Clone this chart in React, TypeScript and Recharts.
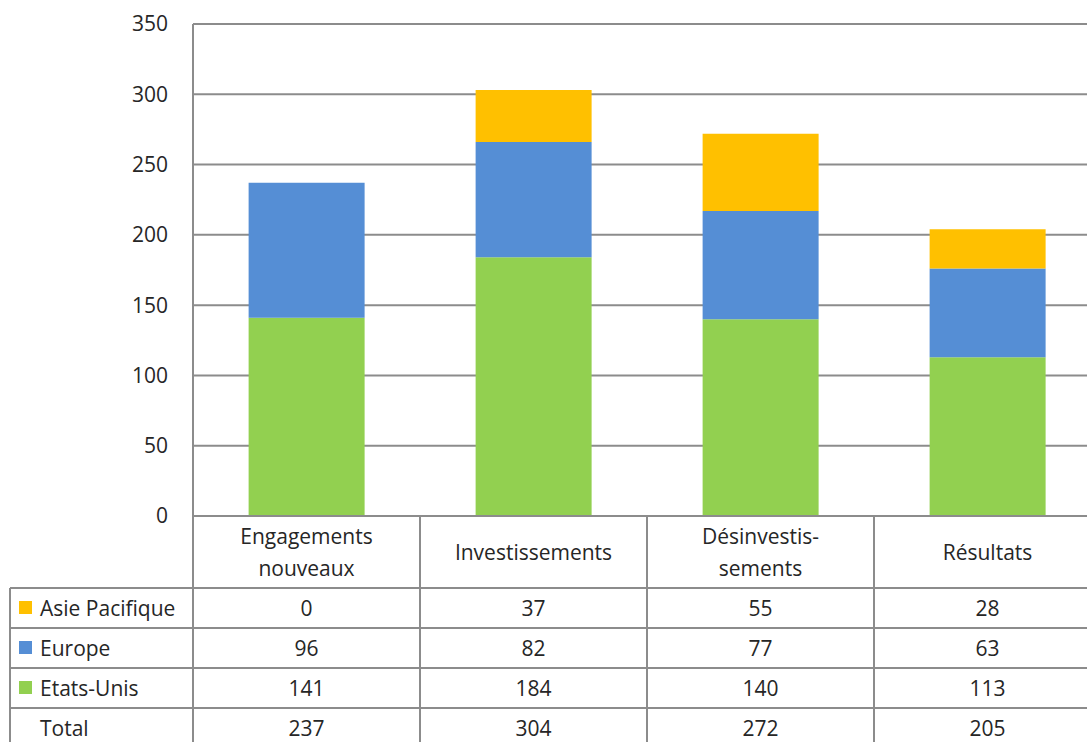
import React from "react";
import { BarChart, Bar, XAxis, YAxis, CartesianGrid } from "recharts";

const categories = ["Engagements\nnouveaux", "Investissements", "Désinvestis-\nsements", "Résultats"];
const asiePacifique = [0, 37, 55, 28];
const europe = [96, 82, 77, 63];
const etatsUnis = [141, 184, 140, 113];
const totals = [237, 304, 272, 205];
const yTicks = [0, 50, 100, 150, 200, 250, 300, 350];

const seriesRows = [
  { name: "Asie Pacifique", values: asiePacifique, color: "#FFC000" },
  { name: "Europe", values: europe, color: "#558ED5" },
  { name: "Etats-Unis", values: etatsUnis, color: "#92D050" },
  { name: "Total", values: totals, color: null as string | null },
];

const data = categories.map((c, i) => ({
  category: c,
  asie: asiePacifique[i],
  europe: europe[i],
  etats: etatsUnis[i],
}));

const CHART_W = 1101;
const CHART_H = 742;
const Y_W = 193;
const BAND = (CHART_W - Y_W) / categories.length;
const LINE = "#8c8c8c";
const FONT = "'Open Sans', sans-serif";
const FS = 21;
const TXT = "#262626";
const HEADER_H = 72;
const ROW_H = 40;
const TABLE_LEFT = 10;

const TableTick = (props: any) => {
  const { x, y, payload } = props;
  const idx = payload.index;
  const left = x - BAND / 2;
  const right = x + BAND / 2;
  const lines = String(payload.value).split("\n");
  const tableBottom = y + HEADER_H + ROW_H * seriesRows.length + 10;
  const rowYs = seriesRows.map((_, r) => y + HEADER_H + ROW_H * r);
  return (
    <g>
      <line x1={left} x2={left} y1={y} y2={tableBottom} stroke={LINE} strokeWidth={2} />
      <line x1={right} x2={right} y1={y} y2={tableBottom} stroke={LINE} strokeWidth={2} />
      {rowYs.map((ry, r) => (
        <line key={"h" + r} x1={left} x2={right} y1={ry} y2={ry} stroke={LINE} strokeWidth={2} />
      ))}
      {lines.map((t, k) => (
        <text
          key={"t" + k}
          x={x}
          y={y + HEADER_H / 2 + (k - (lines.length - 1) / 2) * 32}
          textAnchor="middle"
          dominantBaseline="central"
          fontFamily={FONT}
          fontSize={FS}
          fill={TXT}
        >
          {t}
        </text>
      ))}
      {seriesRows.map((s, r) => (
        <text
          key={"v" + r}
          x={x}
          y={rowYs[r] + ROW_H / 2}
          textAnchor="middle"
          dominantBaseline="central"
          fontFamily={FONT}
          fontSize={FS}
          fill={TXT}
        >
          {s.values[idx]}
        </text>
      ))}
      {idx === 0 && (
        <g>
          <line x1={TABLE_LEFT} x2={TABLE_LEFT} y1={rowYs[0]} y2={tableBottom} stroke={LINE} strokeWidth={2} />
          {rowYs.map((ry, r) => (
            <line key={"lh" + r} x1={TABLE_LEFT} x2={left} y1={ry} y2={ry} stroke={LINE} strokeWidth={2} />
          ))}
          {seriesRows.map((s, r) => (
            <g key={"l" + r}>
              {s.color && (
                <rect x={TABLE_LEFT + 9} y={rowYs[r] + ROW_H / 2 - 7} width={13} height={13} fill={s.color} />
              )}
              <text
                x={TABLE_LEFT + 30}
                y={rowYs[r] + ROW_H / 2}
                dominantBaseline="central"
                fontFamily={FONT}
                fontSize={FS}
                fill={TXT}
              >
                {s.name}
              </text>
            </g>
          ))}
        </g>
      )}
    </g>
  );
};

export default function App() {
  return (
    <div style={{ position: "absolute", left: 0, top: 0, width: 1087, height: 742, overflow: "hidden", background: "#fff" }}>
      <BarChart
        width={CHART_W}
        height={CHART_H}
        data={data}
        margin={{ top: 24, right: 0, left: 0, bottom: 0 }}
        barCategoryGap="24.5%"
      >
        <CartesianGrid vertical={false} stroke={LINE} strokeWidth={2} />
        <XAxis
          dataKey="category"
          height={CHART_H - 24 - 492}
          tickLine={false}
          tickSize={0}
          tickMargin={0}
          axisLine={{ stroke: LINE, strokeWidth: 2 }}
          tick={<TableTick />}
          interval={0}
        />
        <YAxis
          width={Y_W}
          domain={[0, 350]}
          ticks={yTicks}
          tickLine={false}
          tickSize={0}
          tickMargin={25}
          axisLine={{ stroke: LINE, strokeWidth: 2 }}
          tick={{ fontFamily: FONT, fontSize: FS, fill: TXT }}
        />
        <Bar dataKey="etats" stackId="a" fill="#92D050" isAnimationActive={false} />
        <Bar dataKey="europe" stackId="a" fill="#558ED5" isAnimationActive={false} />
        <Bar dataKey="asie" stackId="a" fill="#FFC000" isAnimationActive={false} />
      </BarChart>
    </div>
  );
}
